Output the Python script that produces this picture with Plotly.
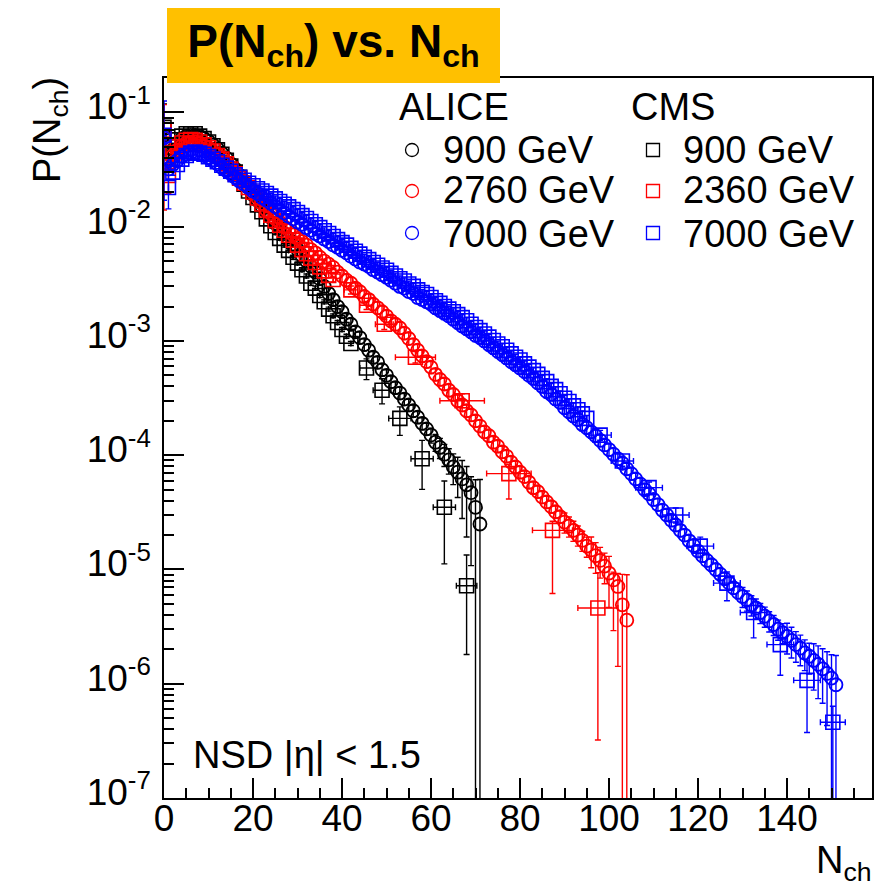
import plotly.graph_objects as go

# ---------------- data ----------------
alice900_n = list(range(0, 72))
alice900_p = [6.3e-2, 3.8e-2, 4.7e-2, 5.4e-2, 5.9e-2, 6.2e-2, 6.3e-2, 6.3e-2, 6.2e-2, 5.9e-2,
              5.6e-2, 5.2e-2, 4.8e-2, 4.4e-2, 4.0e-2, 3.55e-2, 3.2e-2, 2.8e-2, 2.5e-2, 2.2e-2,
              1.9e-2, 1.7e-2, 1.5e-2, 1.35e-2, 1.2e-2, 1.07e-2, 9.8e-3, 8.7e-3, 7.8e-3, 6.9e-3,
              6.3e-3, 5.6e-3, 5.0e-3, 4.5e-3, 4.0e-3, 3.5e-3, 3.0e-3, 2.6e-3, 2.3e-3, 2.0e-3,
              1.8e-3, 1.55e-3, 1.4e-3, 1.2e-3, 1.07e-3, 9.3e-4, 8.3e-4, 7.2e-4, 6.5e-4, 5.6e-4,
              5.0e-4, 4.4e-4, 3.9e-4, 3.5e-4, 3.1e-4, 2.75e-4, 2.45e-4, 2.15e-4, 1.9e-4, 1.7e-4,
              1.5e-4, 1.3e-4, 1.17e-4, 1.02e-4, 9.1e-5, 7.9e-5, 7.1e-5, 6.2e-5, 5.5e-5, 4.7e-5,
              3.5e-5, 2.5e-5]
alice900_err_steps = [(0, 0.04), (30, 0.12)]
alice900_tail_start = 60
alice900_tail_up = [0.15, 0.17, 0.2, 0.22, 0.25, 0.3, 0.35, 0.45, 0.45, 0.38, 0.74, 1.45]
alice900_tail_dn = [0.15, 0.17, 0.2, 0.22, 0.25, 0.3, 0.4, 0.55, 0.65, 0.77, 1.0, 1.0]

alice2760_n = list(range(0, 105))
alice2760_p = [6.0e-2, 3.5e-2, 4.2e-2, 4.7e-2, 5.1e-2, 5.4e-2, 5.5e-2, 5.5e-2, 5.4e-2, 5.1e-2,
               4.9e-2, 4.6e-2, 4.3e-2, 4.0e-2, 3.6e-2, 3.3e-2, 3.0e-2, 2.75e-2, 2.5e-2, 2.25e-2,
               2.0e-2, 1.8e-2, 1.6e-2, 1.4e-2, 1.3e-2, 1.17e-2, 1.1e-2, 1.0e-2, 9.3e-3, 8.5e-3,
               7.9e-3, 7.4e-3, 6.9e-3, 6.3e-3, 5.9e-3, 5.4e-3, 5.0e-3, 4.7e-3, 4.4e-3, 4.0e-3,
               3.7e-3, 3.4e-3, 3.2e-3, 2.9e-3, 2.7e-3, 2.45e-3, 2.3e-3, 2.1e-3, 1.95e-3, 1.8e-3,
               1.65e-3, 1.5e-3, 1.4e-3, 1.3e-3, 1.17e-3, 1.05e-3, 9.3e-4, 8.3e-4, 7.4e-4, 6.6e-4,
               5.9e-4, 5.1e-4, 4.6e-4, 4.2e-4, 3.7e-4, 3.4e-4, 3.0e-4, 2.75e-4, 2.45e-4, 2.25e-4,
               2.0e-4, 1.8e-4, 1.6e-4, 1.48e-4, 1.3e-4, 1.2e-4, 1.07e-4, 9.8e-5, 8.7e-5, 7.9e-5,
               7.1e-5, 6.5e-5, 5.8e-5, 5.2e-5, 4.8e-5, 4.3e-5, 3.9e-5, 3.55e-5, 3.2e-5, 2.9e-5,
               2.6e-5, 2.4e-5, 2.2e-5, 2.0e-5, 1.8e-5, 1.6e-5, 1.48e-5, 1.32e-5, 1.2e-5, 1.07e-5,
               9.3e-6, 8.1e-6, 7.1e-6, 4.9e-6, 3.6e-6]
alice2760_err_steps = [(0, 0.04), (40, 0.12)]
alice2760_tail_start = 90
alice2760_tail_up = [0.2, 0.2, 0.2, 0.2, 0.2, 0.2, 0.3, 0.3, 0.3, 0.3, 0.4, 0.17, 0.3, 0.85, 1.5]
alice2760_tail_dn = [0.2, 0.2, 0.2, 0.2, 0.2, 0.2, 0.3, 0.3, 0.3, 0.3, 0.5, 0.64, 0.8, 1.0, 1.0]

alice7000_n = list(range(0, 152))
alice7000_p = [6.0e-2, 3.2e-2, 3.5e-2, 3.8e-2, 4.1e-2, 4.3e-2, 4.4e-2, 4.4e-2, 4.3e-2, 4.2e-2,
               4.0e-2, 3.8e-2, 3.55e-2, 3.3e-2, 3.1e-2, 2.9e-2, 2.7e-2, 2.5e-2, 2.35e-2, 2.2e-2,
               2.05e-2, 1.95e-2, 1.8e-2, 1.7e-2, 1.6e-2, 1.5e-2, 1.4e-2, 1.32e-2, 1.23e-2, 1.17e-2,
               1.1e-2, 1.05e-2, 9.8e-3, 9.3e-3, 8.7e-3, 8.3e-3, 7.8e-3, 7.4e-3, 6.9e-3, 6.6e-3,
               6.2e-3, 5.9e-3, 5.5e-3, 5.2e-3, 4.9e-3, 4.7e-3, 4.5e-3, 4.2e-3, 4.0e-3, 3.8e-3,
               3.6e-3, 3.4e-3, 3.2e-3, 3.0e-3, 2.9e-3, 2.7e-3, 2.6e-3, 2.4e-3, 2.3e-3, 2.2e-3,
               2.1e-3, 1.95e-3, 1.85e-3, 1.75e-3, 1.65e-3, 1.55e-3, 1.45e-3, 1.35e-3, 1.28e-3, 1.2e-3,
               1.12e-3, 1.07e-3, 1.0e-3, 9.3e-4, 8.7e-4, 8.1e-4, 7.6e-4, 7.1e-4, 6.6e-4, 6.2e-4,
               5.8e-4, 5.4e-4, 5.0e-4, 4.7e-4, 4.3e-4, 4.0e-4, 3.6e-4, 3.4e-4, 3.1e-4, 2.9e-4,
               2.6e-4, 2.4e-4, 2.2e-4, 2.05e-4, 1.86e-4, 1.74e-4, 1.6e-4, 1.48e-4, 1.35e-4, 1.23e-4,
               1.12e-4, 1.02e-4, 9.3e-5, 8.5e-5, 7.6e-5, 6.9e-5, 6.2e-5, 5.6e-5, 5.0e-5, 4.6e-5,
               4.1e-5, 3.7e-5, 3.3e-5, 3.0e-5, 2.7e-5, 2.45e-5, 2.2e-5, 2.0e-5, 1.78e-5, 1.62e-5,
               1.45e-5, 1.32e-5, 1.2e-5, 1.1e-5, 1.0e-5, 9.1e-6, 8.3e-6, 7.6e-6, 6.9e-6, 6.3e-6,
               5.8e-6, 5.4e-6, 4.9e-6, 4.6e-6, 4.2e-6, 3.9e-6, 3.55e-6, 3.3e-6, 3.0e-6, 2.8e-6,
               2.6e-6, 2.4e-6, 2.2e-6, 2.05e-6, 1.86e-6, 1.74e-6, 1.6e-6, 1.48e-6, 1.35e-6, 1.23e-6,
               1.12e-6, 9.8e-7]
alice7000_err_steps = [(0, 0.04), (60, 0.12)]
alice7000_tail_start = 130
alice7000_tail_up = [0.2, 0.2, 0.2, 0.2, 0.2, 0.2, 0.2, 0.2, 0.2, 0.2,
                     0.3, 0.3, 0.3, 0.3, 0.3, 0.3, 0.4, 0.45, 0.5, 0.55, 0.6, 0.8]
alice7000_tail_dn = [0.2, 0.2, 0.2, 0.2, 0.2, 0.2, 0.2, 0.2, 0.2, 0.2,
                     0.3, 0.3, 0.3, 0.3, 0.3, 0.3, 0.45, 0.5, 0.5, 0.65, 1.0, 1.0]

# CMS: unit bins at low N, wider bins (with x errors) at high N
cms900_n = list(range(0, 43)) + [45.5, 49, 53, 58, 63, 68]
cms900_p = [7.4e-2, 4.0e-2, 5.0e-2, 5.75e-2, 6.2e-2, 6.5e-2, 6.5e-2, 6.5e-2, 6.2e-2, 5.9e-2,
            5.5e-2, 5.1e-2, 4.7e-2, 4.3e-2, 3.8e-2, 3.4e-2, 3.0e-2, 2.7e-2, 2.35e-2, 2.05e-2,
            1.8e-2, 1.55e-2, 1.35e-2, 1.17e-2, 1.02e-2, 8.9e-3, 7.9e-3, 6.9e-3, 6.2e-3, 5.4e-3,
            4.8e-3, 4.2e-3, 3.7e-3, 3.2e-3, 2.9e-3, 2.5e-3, 2.2e-3, 1.9e-3, 1.66e-3, 1.45e-3,
            1.26e-3, 1.1e-3, 9.5e-4, 5.8e-4, 3.7e-4, 2.1e-4, 9.3e-5, 3.5e-5, 7.2e-6]
cms900_dense_err = 0.04
cms900_wide_xerr = [1.5, 2.0, 2.5, 2.5, 2.5, 2.3]
cms900_wide_up = [0.2, 0.26, 0.26, 0.45, 0.70, 0.86]
cms900_wide_dn = [0.21, 0.24, 0.29, 0.46, 0.68, 0.75]
cms900_first_up = [0.6, 0.2]
cms900_first_dn = [0.42, 0.2]

cms2360_n = list(range(0, 39)) + [42, 45.5, 49.5, 56.5, 67, 77.5, 87.3, 97.5]
cms2360_p = [7.0e-2, 2.8e-2, 4.4e-2, 5.0e-2, 5.4e-2, 5.7e-2, 5.8e-2, 5.7e-2, 5.5e-2, 5.2e-2,
             4.9e-2, 4.6e-2, 4.2e-2, 3.9e-2, 3.55e-2, 3.2e-2, 2.9e-2, 2.65e-2, 2.4e-2, 2.2e-2,
             2.0e-2, 1.78e-2, 1.58e-2, 1.4e-2, 1.26e-2, 1.13e-2, 1.03e-2, 9.3e-3, 8.4e-3, 7.6e-3,
             6.9e-3, 6.3e-3, 5.8e-3, 5.3e-3, 4.85e-3, 4.45e-3, 4.1e-3, 3.75e-3, 3.45e-3,
             2.8e-3, 2.05e-3, 1.4e-3, 7.2e-4, 3.0e-4, 6.9e-5, 2.2e-5, 4.6e-6]
cms2360_dense_err = 0.05
cms2360_wide_xerr = [1.5, 1.5, 2.0, 4.5, 5.0, 5.0, 4.5, 4.5]
cms2360_wide_up = [0.08, 0.08, 0.1, 0.12, 0.15, 0.2, 0.2, 1.04]
cms2360_wide_dn = [0.08, 0.08, 0.1, 0.11, 0.13, 0.4, 0.72, 0.93]
cms2360_first_up = [0.67, 0.3]
cms2360_first_dn = [0.8, 0.3]

cms7000_n = list(range(0, 96)) + [98, 103, 109, 115, 120.5, 126.5, 132.5, 138.5, 144.5, 150.3]
cms7000_p = [6.3e-2, 2.2e-2, 3.0e-2, 3.5e-2, 3.9e-2, 4.2e-2, 4.4e-2, 4.5e-2, 4.4e-2, 4.3e-2,
             4.1e-2, 3.9e-2, 3.7e-2, 3.45e-2, 3.25e-2, 3.05e-2, 2.85e-2, 2.7e-2, 2.55e-2, 2.4e-2,
             2.28e-2, 2.15e-2, 2.05e-2, 1.95e-2, 1.85e-2, 1.75e-2, 1.66e-2, 1.57e-2, 1.49e-2, 1.41e-2,
             1.33e-2, 1.25e-2, 1.18e-2, 1.11e-2, 1.04e-2, 9.8e-3, 9.2e-3, 8.7e-3, 8.2e-3, 7.7e-3,
             7.25e-3, 6.9e-3, 6.45e-3, 6.1e-3, 5.75e-3, 5.4e-3, 5.15e-3, 4.85e-3, 4.6e-3, 4.35e-3,
             4.15e-3, 3.9e-3, 3.7e-3, 3.5e-3, 3.35e-3, 3.15e-3, 3.0e-3, 2.8e-3, 2.65e-3, 2.55e-3,
             2.4e-3, 2.25e-3, 2.13e-3, 2.0e-3, 1.9e-3, 1.8e-3, 1.7e-3, 1.6e-3, 1.5e-3, 1.4e-3,
             1.31e-3, 1.23e-3, 1.15e-3, 1.08e-3, 1.01e-3, 9.4e-4, 8.9e-4, 8.3e-4, 7.7e-4, 7.2e-4,
             6.8e-4, 6.3e-4, 5.9e-4, 5.5e-4, 5.1e-4, 4.7e-4, 4.4e-4, 4.0e-4, 3.75e-4, 3.45e-4,
             3.15e-4, 2.95e-4, 2.7e-4, 2.5e-4, 2.3e-4, 2.1e-4,
             1.5e-4, 8.9e-5, 5.2e-5, 3.0e-5, 1.6e-5, 7.6e-6, 4.2e-6, 2.2e-6, 1.07e-6, 4.6e-7]
cms7000_dense_err = 0.06
cms7000_wide_xerr = [2.5, 2.5, 3.0, 3.0, 3.0, 3.0, 3.0, 3.0, 3.0, 2.8]
cms7000_wide_up = [0.1, 0.1, 0.12, 0.15, 0.2, 0.25, 0.3, 0.4, 0.48, 0.38]
cms7000_wide_dn = [0.1, 0.1, 0.12, 0.15, 0.2, 0.3, 0.4, 0.46, 0.65, 1.0]
cms7000_first_up = [1.0, 0.5]
cms7000_first_dn = [0.73, 0.35]

legend_groups = ["ALICE", "CMS"]
alice_labels = ["900 GeV", "2760 GeV", "7000 GeV"]
cms_labels = ["900 GeV", "2360 GeV", "7000 GeV"]
series_colors = ["#000000", "#ff0000", "#0000ff"]

x_ticks = [0, 20, 40, 60, 80, 100, 120, 140]
y_ticks = [1e-7, 1e-6, 1e-5, 1e-4, 1e-3, 1e-2, 1e-1]
y_ticktext = ["10<sup>-7</sup>", "10<sup>-6</sup>", "10<sup>-5</sup>", "10<sup>-4</sup>",
              "10<sup>-3</sup>", "10<sup>-2</sup>", "10<sup>-1</sup>"]

# ---------------- geometry ----------------
W, H = 889, 888
PAGE_OFF = 8                       # the page body offsets the figure by 8 px
SL, SR, ST, SB = 164, 872, 78, 798  # plot frame on screen
L, T = SL - PAGE_OFF, ST - PAGE_OFF
R, B = W - (SR - PAGE_OFF), H - (SB - PAGE_OFF)
PW, PH = SR - SL, SB - ST
FONT = "Liberation Sans, Arial, Helvetica, sans-serif"


def xp(px):
    return (px - SL) / PW


def yp(py):
    return (SB - py) / PH


def alice_errors(ns, ps, steps, tail_start, tail_up, tail_dn):
    up, dn = [], []
    for n, p in zip(ns, ps):
        f = 0.0
        for s, v in steps:
            if n >= s:
                f = v
        up.append(p * f)
        dn.append(p * f)
    for i, (u, d) in enumerate(zip(tail_up, tail_dn)):
        k = ns.index(tail_start + i)
        up[k] = ps[k] * u
        dn[k] = ps[k] * d
    return up, dn


def cms_errors(ns, ps, dense_err, wide_xerr, wide_up, wide_dn, first_up, first_dn):
    nw = len(wide_xerr)
    nd = len(ns) - nw
    up = [p * dense_err for p in ps[:nd]]
    dn = [p * dense_err for p in ps[:nd]]
    for i in range(len(first_up)):
        up[i] = ps[i] * first_up[i]
        dn[i] = ps[i] * first_dn[i]
    up += [p * u for p, u in zip(ps[nd:], wide_up)]
    dn += [p * d for p, d in zip(ps[nd:], wide_dn)]
    xe = [0.0] * nd + list(wide_xerr)
    return up, dn, xe


fig = go.Figure()


def add_cms(ns, ps, color, errs):
    up, dn, xe = errs
    fig.add_trace(go.Scatter(
        x=ns, y=ps, mode="markers",
        marker=dict(symbol="square-open", size=14, color=color, line=dict(width=1.6, color=color)),
        error_y=dict(type="data", symmetric=False, array=up, arrayminus=dn,
                     color=color, thickness=1.4, width=3),
        error_x=dict(type="data", array=xe, color=color, thickness=1.4, width=3),
        showlegend=False, hoverinfo="skip"))


def add_alice(ns, ps, color, errs):
    up, dn = errs
    fig.add_trace(go.Scatter(
        x=ns, y=ps, mode="markers",
        marker=dict(symbol="circle-open", size=13, color=color, line=dict(width=1.8, color=color)),
        error_y=dict(type="data", symmetric=False, array=up, arrayminus=dn,
                     color=color, thickness=1.4, width=3),
        showlegend=False, hoverinfo="skip"))


add_cms(cms900_n, cms900_p, series_colors[0],
        cms_errors(cms900_n, cms900_p, cms900_dense_err, cms900_wide_xerr, cms900_wide_up,
                   cms900_wide_dn, cms900_first_up, cms900_first_dn))
add_alice(alice900_n, alice900_p, series_colors[0],
          alice_errors(alice900_n, alice900_p, alice900_err_steps, alice900_tail_start,
                       alice900_tail_up, alice900_tail_dn))
add_cms(cms2360_n, cms2360_p, series_colors[1],
        cms_errors(cms2360_n, cms2360_p, cms2360_dense_err, cms2360_wide_xerr, cms2360_wide_up,
                   cms2360_wide_dn, cms2360_first_up, cms2360_first_dn))
add_alice(alice2760_n, alice2760_p, series_colors[1],
          alice_errors(alice2760_n, alice2760_p, alice2760_err_steps, alice2760_tail_start,
                       alice2760_tail_up, alice2760_tail_dn))
add_cms(cms7000_n, cms7000_p, series_colors[2],
        cms_errors(cms7000_n, cms7000_p, cms7000_dense_err, cms7000_wide_xerr, cms7000_wide_up,
                   cms7000_wide_dn, cms7000_first_up, cms7000_first_dn))
add_alice(alice7000_n, alice7000_p, series_colors[2],
          alice_errors(alice7000_n, alice7000_p, alice7000_err_steps, alice7000_tail_start,
                       alice7000_tail_up, alice7000_tail_dn))

# legend markers on an invisible overlay axis in plot-fraction units
row_y = [yp(150), yp(191), yp(233)]
fig.add_trace(go.Scatter(
    x=[xp(412)] * 3, y=row_y, xaxis="x2", yaxis="y2", mode="markers",
    marker=dict(symbol="circle-open", size=13, color=series_colors,
                line=dict(width=1.3, color=series_colors)),
    showlegend=False, hoverinfo="skip", cliponaxis=False))
fig.add_trace(go.Scatter(
    x=[xp(653)] * 3, y=row_y, xaxis="x2", yaxis="y2", mode="markers",
    marker=dict(symbol="square-open", size=13, color=series_colors,
                line=dict(width=1.3, color=series_colors)),
    showlegend=False, hoverinfo="skip", cliponaxis=False))

annotations = []


def ann(text, x, y, size=38, xanchor="left", yanchor="middle", **kw):
    d = dict(text=text, x=x, y=y, xref="paper", yref="paper", showarrow=False,
             xanchor=xanchor, yanchor=yanchor, font=dict(size=size, family=FONT, color="black"))
    d.update(kw)
    annotations.append(d)


ann(legend_groups[0], xp(397), yp(107))
ann(legend_groups[1], xp(629), yp(107))
for i, ycen in enumerate([150, 190, 234]):
    ann(alice_labels[i], xp(441), yp(ycen))
    ann(cms_labels[i], xp(681), yp(ycen))
ann("NSD |η| &lt; 1.5", xp(191), yp(755))
ann("N<sub>ch</sub>", xp(874), yp(863), xanchor="right")
ann("P(N<sub>ch</sub>)", xp(50), yp(130), xanchor="center", textangle=-90)
# title box
annotations.append(dict(
    text="<b>P(N<sub>ch</sub>) vs. N<sub>ch</sub></b>", x=xp(333.5), y=yp(44.5),
    xref="paper", yref="paper", showarrow=False, xanchor="center", yanchor="middle",
    width=333, height=77, bgcolor="#ffc000", borderpad=0, borderwidth=0,
    align="center", valign="middle",
    font=dict(size=46, family=FONT, color="black")))

axis_common = dict(showgrid=False, zeroline=False, showline=True, linecolor="black", linewidth=1.5,
                   mirror=True, ticks="inside", ticklen=20, tickwidth=1.5, tickcolor="black",
                   automargin=False,
                   tickfont=dict(size=37, family=FONT, color="black"))

fig.update_layout(
    template="none",
    width=W, height=H, autosize=False,
    margin=dict(l=L, r=R, t=T, b=B, pad=0),
    paper_bgcolor="white", plot_bgcolor="white",
    showlegend=False,
    xaxis=dict(range=[0, 159.1], tickmode="array", tickvals=x_ticks,
               minor=dict(ticks="inside", ticklen=10, tickwidth=1.5, tickcolor="black", dtick=5, tick0=0),
               ticklabelstandoff=-13, **axis_common),
    yaxis=dict(type="log", range=[-7, -0.699], tickmode="array", tickvals=y_ticks,
               ticktext=y_ticktext,
               minor=dict(ticks="inside", ticklen=10, tickwidth=1.5, tickcolor="black", dtick="D1"),
               ticklabelstandoff=4, ticklabelshift=-6, **axis_common),
    xaxis2=dict(overlaying="x", range=[0, 1], visible=False, fixedrange=True),
    yaxis2=dict(overlaying="y", range=[0, 1], visible=False, fixedrange=True),
    annotations=annotations,
)

fig.write_html("out.html")
